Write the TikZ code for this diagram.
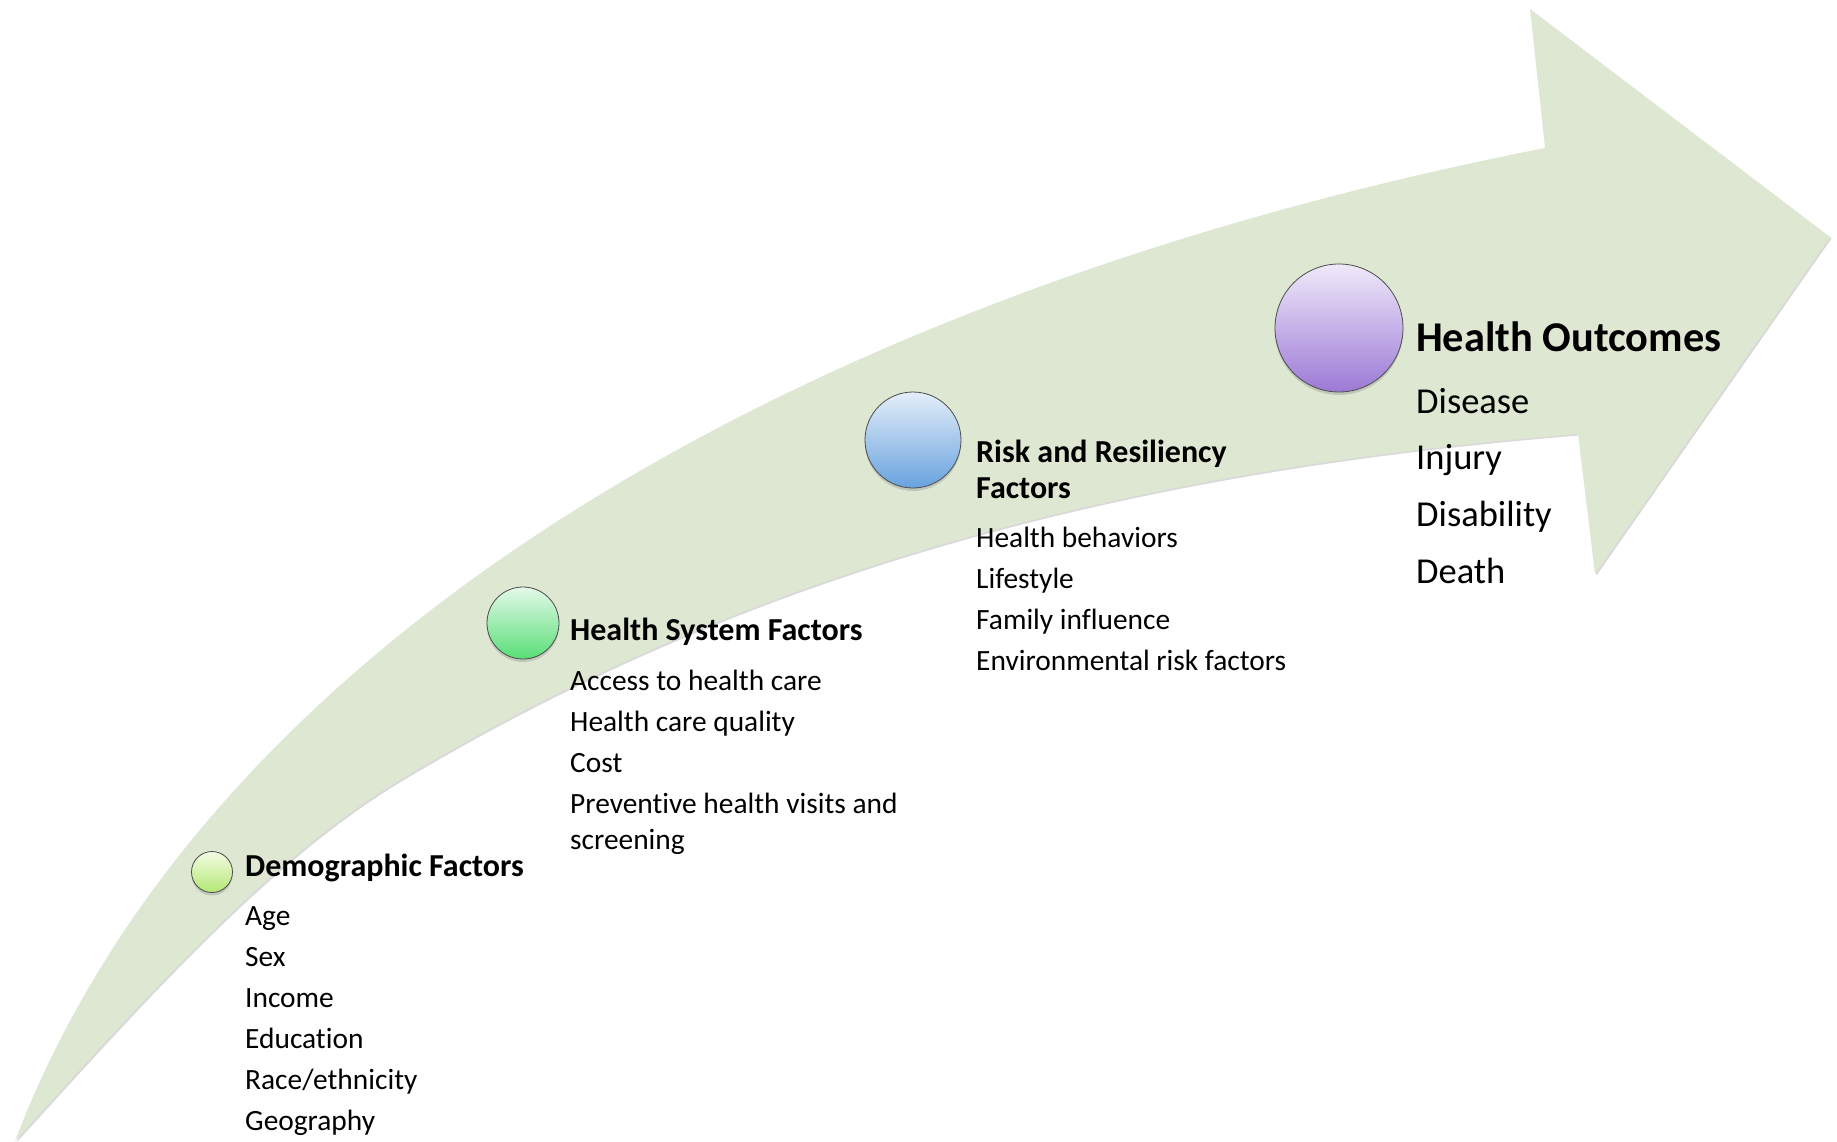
\documentclass[tikz,border=0pt]{standalone}
\usepackage{fontspec}
\setmainfont{Carlito}[Ligatures={NoCommon}]
\usetikzlibrary{shadows}
\definecolor{arrowgreen}{RGB}{221,231,210}
\definecolor{demoT}{RGB}{243,251,228}
\definecolor{demoM}{RGB}{228,246,200}
\definecolor{demoB}{RGB}{180,232,116}
\definecolor{hsT}{RGB}{228,249,234}
\definecolor{hsM}{RGB}{202,243,212}
\definecolor{hsB}{RGB}{88,222,118}
\definecolor{rkT}{RGB}{228,238,249}
\definecolor{rkM}{RGB}{202,221,242}
\definecolor{rkB}{RGB}{104,162,222}
\definecolor{ocT}{RGB}{239,233,249}
\definecolor{ocM}{RGB}{222,208,239}
\definecolor{ocB}{RGB}{156,122,214}
\begin{document}
\begin{tikzpicture}[x=1pt,y=-1pt,
  item/.style={anchor=base west, inner sep=0pt, font=\fontsize{29.4}{35}\selectfont},
  head/.style={anchor=base west, inner sep=0pt, font=\fontsize{32}{38}\selectfont\bfseries},
  bigitem/.style={anchor=base west, inner sep=0pt, font=\fontsize{36.5}{44}\selectfont},
  bighead/.style={anchor=base west, inner sep=0pt, font=\fontsize{42.4}{50}\selectfont\bfseries},
  ball/.style={circle, inner sep=0pt, draw=black!70, line width=0.8pt,
    drop shadow={shadow xshift=0pt, shadow yshift=-3pt, opacity=0.3}}]
\useasboundingbox (0,0) rectangle (1837,1141);
% arrow
\path[fill=arrowgreen, drop shadow={shadow xshift=1.5pt, shadow yshift=-1.5pt, opacity=0.3}]
  (15,1141) .. controls (210,630) and (820,290) .. (1545,148)
  -- (1530,9) -- (1830,237) -- (1595,574) -- (1578,434)
  .. controls (1128,470) and (750,570) .. (400,780)
  .. controls (270,858) and (145,998) .. (15,1141)
  -- cycle;
% circles
\node[ball, minimum size=41pt, top color=demoT, middle color=demoM, bottom color=demoB] (demo) at (212,872) {};
\node[ball, minimum size=72pt, top color=hsT, middle color=hsM, bottom color=hsB] (hs) at (523,623) {};
\node[ball, minimum size=96pt, top color=rkT, middle color=rkM, bottom color=rkB] (risk) at (913,440) {};
\node[ball, minimum size=128pt, top color=ocT, middle color=ocM, bottom color=ocB] (out) at (1339,328) {};
% demographic
\node[head] (demoh) at (245,876) {Demographic Factors};
\node[item] (d1) at (245,925) {Age};
\node[item] (d2) at (245,966) {Sex};
\node[item] (d3) at (245,1007) {Income};
\node[item] (d4) at (245,1048) {Education};
\node[item] (d5) at (245,1089) {Race/ethnicity};
\node[item] (d6) at (245,1130) {Geography};
% health system
\node[head] (hsh) at (570,640) {Health System Factors};
\node[item] (h1) at (570,690) {Access to health care};
\node[item] (h2) at (570,731) {Health care quality};
\node[item] (h3) at (570,772) {Cost};
\node[item] (h4a) at (570,813) {Preventive health visits and};
\node[item] (h4b) at (570,849) {screening};
% risk
\node[head] (rkh1) at (976,462) {Risk and Resiliency};
\node[head] (rkh2) at (976,498) {Factors};
\node[item] (r1) at (976,547) {Health behaviors};
\node[item] (r2) at (976,588) {Lifestyle};
\node[item] (r3) at (976,629) {Family influence};
\node[item] (r4) at (976,670) {Environmental risk factors};
% outcomes
\node[bighead] (och) at (1416,351) {Health Outcomes};
\node[bigitem] (o1) at (1416,413) {Disease};
\node[bigitem] (o2) at (1416,469) {Injury};
\node[bigitem] (o3) at (1416,526) {Disability};
\node[bigitem] (o4) at (1416,583) {Death};
\end{tikzpicture}
\end{document}
